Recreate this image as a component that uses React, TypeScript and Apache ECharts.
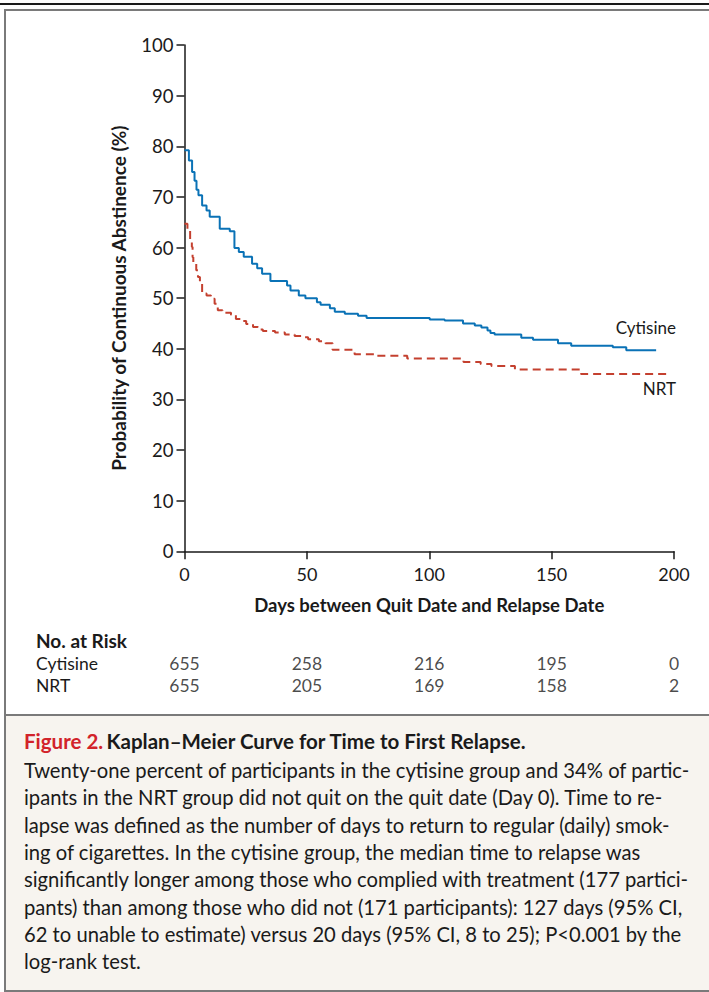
import React, { useEffect, useRef } from 'react';
import * as echarts from 'echarts';

const FONT = 'Lato, "Noto Sans", sans-serif';

// Kaplan–Meier step points: [day, % abstinent] (value holds until the next day)
const cytisineSteps: number[][] = [
  [0, 79.2], [1.8, 77.2], [3.1, 74.9], [4.1, 73.2], [4.9, 71.4], [5.7, 70.3], [7.2, 68.3],
  [9.0, 67.3], [10.3, 66.1], [14.4, 63.7], [18.5, 63.2], [20.4, 59.9], [22.2, 59.1],
  [24.2, 58.2], [27.6, 56.8], [29.7, 55.9], [31.7, 54.8], [35.1, 53.4], [41.9, 52.5],
  [43.3, 51.5], [46.7, 50.5], [49.4, 50.0], [54.1, 49.2], [55.6, 48.7], [59.4, 48.0],
  [61.4, 47.3], [65.5, 46.9], [70.9, 46.5], [74.4, 46.1], [100.2, 45.8], [106.3, 45.6],
  [113.8, 45.0], [118.6, 44.6], [121.3, 44.2], [123.8, 43.6], [125.0, 43.1], [126.7, 42.8],
  [137.6, 42.2], [142.4, 41.8], [152.6, 41.1], [158.0, 40.6], [175.0, 40.3], [180.5, 39.7],
  [192.7, 39.7],
];

const nrtSteps: number[][] = [
  [0, 64.7], [1.2, 63.4], [2.3, 61.4], [3.0, 60.1], [3.3, 58.1], [3.6, 57.1], [4.8, 55.5],
  [5.5, 54.2], [6.3, 52.8], [7.2, 50.9], [9.0, 50.5], [10.8, 49.9], [12.3, 48.9], [13.6, 47.6],
  [15.5, 47.1], [19.0, 46.7], [21.0, 45.9], [23.0, 45.5], [25.2, 44.9], [28.0, 44.3],
  [30.0, 43.8], [32.0, 43.5], [37.0, 43.2], [41.0, 42.8], [45.0, 42.5], [47.8, 42.3],
  [50.5, 41.9], [54.9, 41.5], [57.6, 41.1], [60.5, 39.8], [69.5, 38.9], [78.6, 38.6],
  [91.0, 38.1], [114.0, 37.4], [121.0, 37.0], [125.4, 36.6], [135.0, 35.9], [162.0, 35.0],
  [197.5, 35.0],
];

const riskDays = [0, 50, 100, 150, 200];
const riskGroups = ['Cytisine', 'NRT'];
const riskCytisine = [655, 258, 216, 195, 0];
const riskNRT = [655, 205, 169, 158, 2];

const xAxisTitle = 'Days between Quit Date and Relapse Date';
const yAxisTitle = 'Probability of Continuous Abstinence (%)';
const captionTitleRed = 'Figure 2.';
const captionTitle = 'Kaplan–Meier Curve for Time to First Relapse.';
const captionLines = [
  'Twenty-one percent of participants in the cytisine group and 34% of partic-',
  'ipants in the NRT group did not quit on the quit date (Day 0). Time to re-',
  'lapse was defined as the number of days to return to regular (daily) smok-',
  'ing of cigarettes. In the cytisine group, the median time to relapse was',
  'significantly longer among those who complied with treatment (177 partici-',
  'pants) than among those who did not (171 participants): 127 days (95% CI,',
  '62 to unable to estimate) versus 20 days (95% CI, 8 to 25); P<0.001 by the',
  'log-rank test.',
];

const BLUE = '#0a72b6';
const RED = '#c4402f';
const AXIS = '#1a1a1a';

export default function App() {
  const ref = useRef<HTMLDivElement>(null);
  useEffect(() => {
    if (!ref.current) return;
    const chart = echarts.init(ref.current, null, { renderer: 'svg', width: 709, height: 992 });

    const riskData: any[] = [];
    riskDays.forEach((d, i) => {
      riskData.push([d, riskGroups[0], riskCytisine[i]]);
      riskData.push([d, riskGroups[1], riskNRT[i]]);
    });

    const graphic: any[] = [
      { type: 'rect', z: -10, shape: { x: 5, y: 715, width: 720, height: 276 }, style: { fill: '#f7f4ef' } },
      { type: 'rect', shape: { x: 0, y: 3, width: 709, height: 2 }, style: { fill: '#1a1a1a' } },
      { type: 'rect', shape: { x: 5, y: 10, width: 760, height: 981 }, style: { fill: 'none', stroke: '#7a7a7a', lineWidth: 2 } },
      { type: 'line', shape: { x1: 5, y1: 715, x2: 709, y2: 715 }, style: { stroke: '#7a7a7a', lineWidth: 2 } },
      { type: 'text', x: 676, y: 327, style: { text: 'Cytisine', fill: '#1a1a1a', fontSize: 17, fontFamily: FONT, align: 'right', verticalAlign: 'middle' } },
      { type: 'text', x: 676, y: 388, style: { text: 'NRT', fill: '#1a1a1a', fontSize: 17, fontFamily: FONT, align: 'right', verticalAlign: 'middle' } },
      { type: 'text', x: 36, y: 640, style: { text: 'No. at Risk', fill: '#1a1a1a', fontSize: 19, fontWeight: 'bold', fontFamily: FONT, verticalAlign: 'middle' } },
      {
        type: 'text', x: 24, y: 741,
        style: {
          text: `{r|${captionTitleRed}} {b|${captionTitle}}`,
          verticalAlign: 'middle',
          rich: {
            r: { fill: '#d2232a', fontWeight: 'bold', fontSize: 20.5, fontFamily: FONT },
            b: { fill: '#1a1a1a', fontWeight: 'bold', fontSize: 20.5, fontFamily: FONT },
          },
        },
      },
      ...captionLines.map((t, i) => ({
        type: 'text', x: 24, y: 770 + i * 27.3,
        style: { text: t, fill: '#1a1a1a', fontSize: 20.2, fontFamily: FONT, verticalAlign: 'middle' },
      })),
    ];

    chart.setOption({
      animation: false,
      backgroundColor: '#ffffff',
      textStyle: { fontFamily: FONT },
      grid: [
        { left: 184.5, right: 35, top: 45, bottom: 440.7 },
        { left: 184.5, right: 35, top: 652, height: 44 },
      ],
      xAxis: [
        {
          gridIndex: 0, type: 'value', min: 0, max: 200, interval: 50,
          name: xAxisTitle, nameLocation: 'middle', nameGap: 44,
          nameTextStyle: { fontSize: 18.5, fontWeight: 'bold', color: '#1a1a1a', fontFamily: FONT },
          axisLine: { show: true, lineStyle: { color: AXIS, width: 1.5 } },
          axisTick: { show: true, length: 8, lineStyle: { color: AXIS, width: 1.5 } },
          axisLabel: { fontSize: 18, color: '#1a1a1a', margin: 14, fontFamily: FONT },
          splitLine: { show: false },
        },
        {
          gridIndex: 1, type: 'value', min: 0, max: 200, show: false,
        },
      ],
      yAxis: [
        {
          gridIndex: 0, type: 'value', min: 0, max: 100, interval: 10,
          name: yAxisTitle, nameLocation: 'middle', nameGap: 57,
          nameTextStyle: { fontSize: 19, fontWeight: 'bold', color: '#1a1a1a', fontFamily: FONT },
          axisLine: { show: true, lineStyle: { color: AXIS, width: 1.5 } },
          axisTick: { show: true, length: 8, lineStyle: { color: AXIS, width: 1.5 } },
          axisLabel: { fontSize: 18.5, color: '#1a1a1a', margin: 11, fontFamily: FONT },
          splitLine: { show: false },
        },
        {
          gridIndex: 1, type: 'category', data: riskGroups, inverse: true,
          axisLine: { show: false }, axisTick: { show: false }, splitLine: { show: false },
          axisLabel: { interval: 0, align: 'left', margin: 148.5, fontSize: 17.5, color: '#1a1a1a', fontFamily: FONT },
        },
      ],
      series: [
        {
          name: 'Cytisine', type: 'line', step: 'end', data: cytisineSteps, showSymbol: false,
          xAxisIndex: 0, yAxisIndex: 0,
          lineStyle: { color: BLUE, width: 2 }, itemStyle: { color: BLUE },
        },
        {
          name: 'NRT', type: 'line', step: 'end', data: nrtSteps, showSymbol: false,
          xAxisIndex: 0, yAxisIndex: 0,
          lineStyle: { color: RED, width: 2, type: [8, 5] }, itemStyle: { color: RED },
        },
        {
          name: 'No. at Risk', type: 'scatter', xAxisIndex: 1, yAxisIndex: 1,
          data: riskData, symbolSize: 1, itemStyle: { color: 'transparent' },
          label: {
            show: true, position: 'inside', fontSize: 17.5, color: '#1a1a1a', fontFamily: FONT,
            formatter: (p: any) => String(p.value[2]),
          },
        },
      ],
      graphic,
    });
    return () => chart.dispose();
  }, []);
  return <div ref={ref} style={{ position: 'absolute', left: 0, top: 0, width: 709, height: 992 }} />;
}
